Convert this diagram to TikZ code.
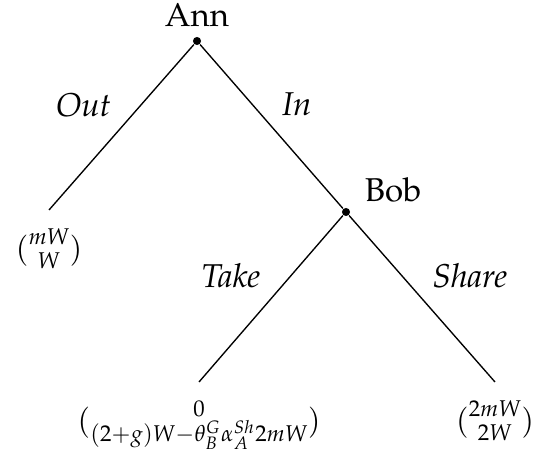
\documentclass[tikz,border=0pt]{standalone}
\usepackage{amsmath}
\usepackage[T1]{fontenc}
\usepackage{mathpazo}
\usetikzlibrary{positioning}
\tikzset{
  decision/.style={circle,fill=black,inner sep=0pt,minimum size=2.7pt},
  player/.style={inner sep=2pt,font=\fontsize{11}{13}\selectfont},
  movelabel/.style={font=\fontsize{11}{13}\selectfont\itshape},
  payoff/.style={inner sep=2pt},
  branch/.style={line width=0.45pt}
}
\begin{document}
\begin{tikzpicture}[x=0.3333pt,y=-0.3333pt]
  \useasboundingbox (0,0) rectangle (535,449);
  % decision nodes and leaves
  \node[decision] (ann) at (197,41) {};
  \node[decision] (bob) at (346,212) {};
  \coordinate (outleaf) at (49,210);
  \coordinate (takeleaf) at (199,382);
  \coordinate (shareleaf) at (495,382);
  \node[player,above=1pt of ann] (annname) {Ann};
  \node[player,above right=0pt and 3pt of bob] (bobname) {Bob};
  % branches
  \draw[branch] (ann) -- node[movelabel,midway,above left] {Out} (outleaf);
  \draw[branch] (ann) -- node[movelabel,midway,above right] {In} (bob);
  \draw[branch] (bob) -- node[movelabel,midway,above left] {Take} (takeleaf);
  \draw[branch] (bob) -- node[movelabel,midway,above right] {Share} (shareleaf);
  % payoffs
  \node[payoff,below=4pt of outleaf] (outpay) {$\binom{mW}{W}$};
  \node[payoff,below=4pt of takeleaf] (takepay)
    {$\binom{0}{(2+g)W-\theta_B^G\alpha_A^{Sh}2mW}$};
  \node[payoff,below=4pt of shareleaf] (sharepay) {$\binom{2mW}{2W}$};
\end{tikzpicture}
\end{document}
